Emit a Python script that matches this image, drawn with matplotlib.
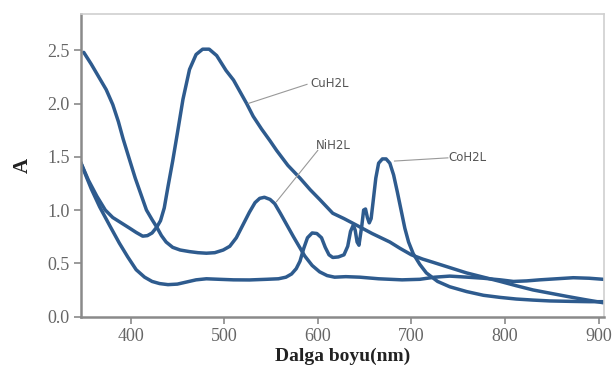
import matplotlib
matplotlib.use("Agg")
import matplotlib.pyplot as plt

# values
cu_x = [346.6, 355, 364, 373, 381, 390, 399, 406, 413, 418, 423, 428, 432, 436, 440, 445,
        450, 456, 463, 470, 477, 484, 492, 502, 510, 517, 524, 531, 540, 549, 556, 568,
        581, 592, 602, 616, 628, 641, 658, 677, 688, 700, 712, 723, 741, 759, 777, 795,
        812, 830, 848, 866, 885, 905]
cu_y = [1.45, 1.28, 1.13, 1.00, 0.93, 0.88, 0.83, 0.79, 0.755, 0.76, 0.785, 0.84, 0.90, 1.02, 1.22, 1.46,
        1.72, 2.04, 2.32, 2.46, 2.51, 2.51, 2.45, 2.31, 2.22, 2.11, 2.00, 1.88, 1.76, 1.65, 1.56, 1.42,
        1.30, 1.19, 1.10, 0.97, 0.92, 0.86, 0.78, 0.70, 0.64, 0.58, 0.54, 0.51, 0.46, 0.41, 0.37, 0.33,
        0.29, 0.25, 0.22, 0.19, 0.16, 0.13]

ni_x = [350, 358, 366, 374, 381, 387, 392, 399, 405, 411, 417, 423, 428, 433, 438, 445,
        453, 463, 472, 481, 490, 499, 506, 513, 520, 527, 533, 538, 543, 549, 554, 560,
        567, 574, 580, 586, 594, 602, 610, 618, 630, 645, 665, 690, 709, 725, 741, 760,
        777, 795, 809, 823, 837, 855, 873, 890, 905]
ni_y = [2.48, 2.37, 2.25, 2.13, 1.99, 1.83, 1.67, 1.47, 1.30, 1.15, 1.00, 0.91, 0.84, 0.76, 0.70, 0.65,
        0.625, 0.61, 0.60, 0.595, 0.60, 0.625, 0.66, 0.74, 0.86, 0.98, 1.07, 1.11, 1.12, 1.10, 1.06, 0.97,
        0.86, 0.75, 0.66, 0.57, 0.48, 0.42, 0.385, 0.37, 0.375, 0.37, 0.355, 0.345, 0.35, 0.37, 0.38, 0.37,
        0.36, 0.345, 0.33, 0.335, 0.345, 0.355, 0.365, 0.36, 0.35]

co_x = [346.6, 352, 358, 367, 378, 388, 397, 406, 415, 423, 431, 440, 450, 460, 470, 481,
        495, 510, 527, 545, 558, 566, 572, 577, 581, 585, 589, 594, 599, 604, 608, 612,
        616, 622, 628, 632, 635, 638, 640, 642, 644, 647, 649, 651, 653, 655, 657, 659, 662,
        665, 669, 673, 677, 681, 685, 689, 693, 697, 702, 709, 716, 728, 741, 759, 777,
        795, 812, 830, 848, 870, 890, 905]
co_y = [1.45, 1.33, 1.20, 1.03, 0.85, 0.69, 0.56, 0.44, 0.37, 0.33, 0.31, 0.30, 0.305, 0.325, 0.345, 0.355,
        0.35, 0.345, 0.344, 0.35, 0.355, 0.37, 0.40, 0.45, 0.52, 0.64, 0.74, 0.785, 0.78, 0.74, 0.65, 0.58,
        0.555, 0.56, 0.58, 0.66, 0.80, 0.86, 0.81, 0.70, 0.67, 0.85, 1.00, 1.01, 0.93, 0.88, 0.92, 1.07, 1.30,
        1.44, 1.48, 1.48, 1.44, 1.33, 1.17, 1.00, 0.83, 0.70, 0.59, 0.49, 0.41, 0.33, 0.28, 0.235, 0.20,
        0.18, 0.165, 0.155, 0.147, 0.143, 0.14, 0.14]

x_ticks = [400, 500, 600, 700, 800, 900]
y_ticks = [0.0, 0.5, 1.0, 1.5, 2.0, 2.5]

line_color = "#2e5b8e"
fig = plt.figure(figsize=(6.15, 3.69), dpi=100)
ax = fig.add_axes([0.131, 0.142, 0.851, 0.820])

for xs, ys in [(cu_x, cu_y), (ni_x, ni_y), (co_x, co_y)]:
    ax.plot(xs, ys, color=line_color, lw=2.5, solid_joinstyle="round", solid_capstyle="round")

ax.set_xlim(346.6, 905.7)
ax.set_ylim(0, 2.84)
ax.set_xticks(x_ticks)
ax.set_yticks(y_ticks)
ax.set_yticklabels(["%.1f" % v for v in y_ticks])

for side in ["left", "bottom"]:
    ax.spines[side].set_color("#8a8a8a")
    ax.spines[side].set_linewidth(1.8)
for side in ["top", "right"]:
    ax.spines[side].set_color("#d0d0d0")
    ax.spines[side].set_linewidth(1.2)

ax.tick_params(direction="out", length=5, width=1.2, color="#8a8a8a",
               labelcolor="#666666", labelsize=13, pad=3)
for lab in ax.get_xticklabels() + ax.get_yticklabels():
    lab.set_family("Liberation Serif")

ax.set_xlabel("Dalga boyu(nm)", family="Liberation Serif", fontweight="bold",
              fontsize=14, color="#222222", labelpad=2)
ax.set_ylabel("A", family="Liberation Serif", fontweight="bold", fontsize=15,
              color="#222222", labelpad=10)

# curve labels with leader lines
lbl = dict(fontsize=8.5, color="#555555", family="DejaVu Sans", va="center", ha="left")
ax.plot([525.6, 588.5], [2.00, 2.18], color="#999999", lw=0.8)
ax.text(592, 2.19, "CuH2L", **lbl)
ax.plot([556, 600], [1.08, 1.56], color="#999999", lw=0.8)
ax.text(598, 1.61, "NiH2L", **lbl)
ax.plot([682, 720, 739], [1.46, 1.48, 1.49], color="#999999", lw=0.8)
ax.text(739, 1.49, "CoH2L", **lbl)

fig.savefig("out.png", dpi=100)
